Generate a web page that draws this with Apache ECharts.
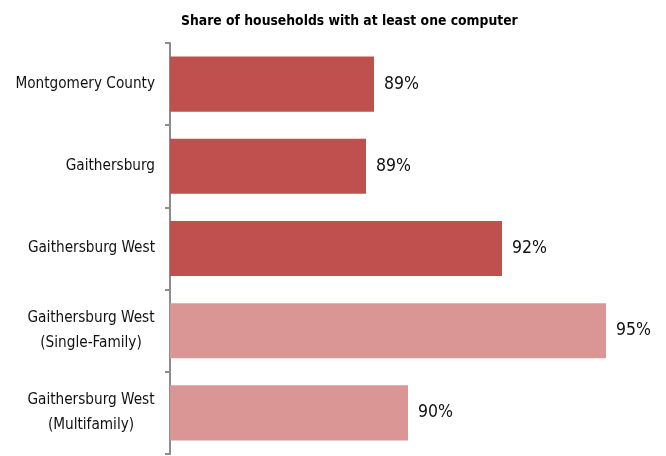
<!DOCTYPE html>
<html>
<head>
<meta charset="utf-8">
<style>
  html, body { margin: 0; padding: 0; background: #fff; }
  #chart { width: 666px; height: 456px; }
</style>
<script src="https://cdn.jsdelivr.net/npm/echarts@6/dist/echarts.min.js"></script>
</head>
<body>
<div id="chart"></div>
<script>
// Share of households owning at least one computer, by area
const categories = [
  'Montgomery County',
  'Gaithersburg',
  'Gaithersburg West',
  'Gaithersburg West\n(Single-Family)',
  'Gaithersburg West\n(Multifamily)'
];
const shareValues = [89.1, 88.9, 92.3, 94.9, 89.95];
const isSubgroup = [false, false, false, true, true];
const titleText = 'Share of households with at least one computer';

const FONT = '"DejaVu Sans Condensed", "DejaVu Sans", sans-serif';
const DARK_RED = '#C0504D';
const LIGHT_RED = '#D99694';
const AXIS_GRAY = '#8C8C8C';
const LABEL_SIZE = 15.2;
const LINE_H = 25;

// width of the longest line, so two-line labels can center their lines
function textWidth(str, size) {
  const ctx = document.createElement('canvas').getContext('2d');
  ctx.font = size + 'px ' + FONT;
  return Math.ceil(ctx.measureText(str).width);
}

const chart = echarts.init(document.getElementById('chart'), null, { renderer: 'canvas' });
chart.setOption({
  animation: false,
  backgroundColor: '#fff',
  title: {
    text: titleText,
    left: 176,
    top: 9,
    textStyle: { fontFamily: FONT, fontSize: 13.8, fontWeight: 'bold', color: '#000' }
  },
  grid: { left: 170, right: 16, top: 43, bottom: 2, containLabel: false, outerBoundsMode: 'none' },
  xAxis: {
    type: 'value',
    min: 84,
    max: 96,
    show: false
  },
  yAxis: {
    type: 'category',
    inverse: true,
    data: categories,
    axisLine: { show: true, lineStyle: { color: AXIS_GRAY, width: 2 } },
    axisTick: { show: true, length: 5, lineStyle: { color: AXIS_GRAY, width: 2 } },
    splitLine: { show: false },
    axisLabel: {
      margin: 15,
      fontFamily: FONT,
      fontSize: LABEL_SIZE,
      color: '#111',
      lineHeight: LINE_H,
      formatter: function (v) {
        if (v.indexOf('\n') < 0) return v;
        return v.split('\n').map(function (l) { return '{c|' + l + '}'; }).join('\n');
      },
      rich: {
        c: {
          width: textWidth('Gaithersburg West', LABEL_SIZE),
          align: 'center',
          fontFamily: FONT,
          fontSize: LABEL_SIZE,
          color: '#111',
          lineHeight: LINE_H
        }
      }
    }
  },
  series: [{
    type: 'bar',
    barCategoryGap: '33%',
    data: shareValues.map(function (v, i) {
      return { value: v, itemStyle: { color: isSubgroup[i] ? LIGHT_RED : DARK_RED } };
    }),
    label: {
      show: true,
      position: 'right',
      distance: 10,
      fontFamily: FONT,
      fontSize: 17.5,
      color: '#111',
      formatter: function (p) { return Math.round(p.value) + '%'; }
    }
  }]
});
</script>
</body>
</html>
